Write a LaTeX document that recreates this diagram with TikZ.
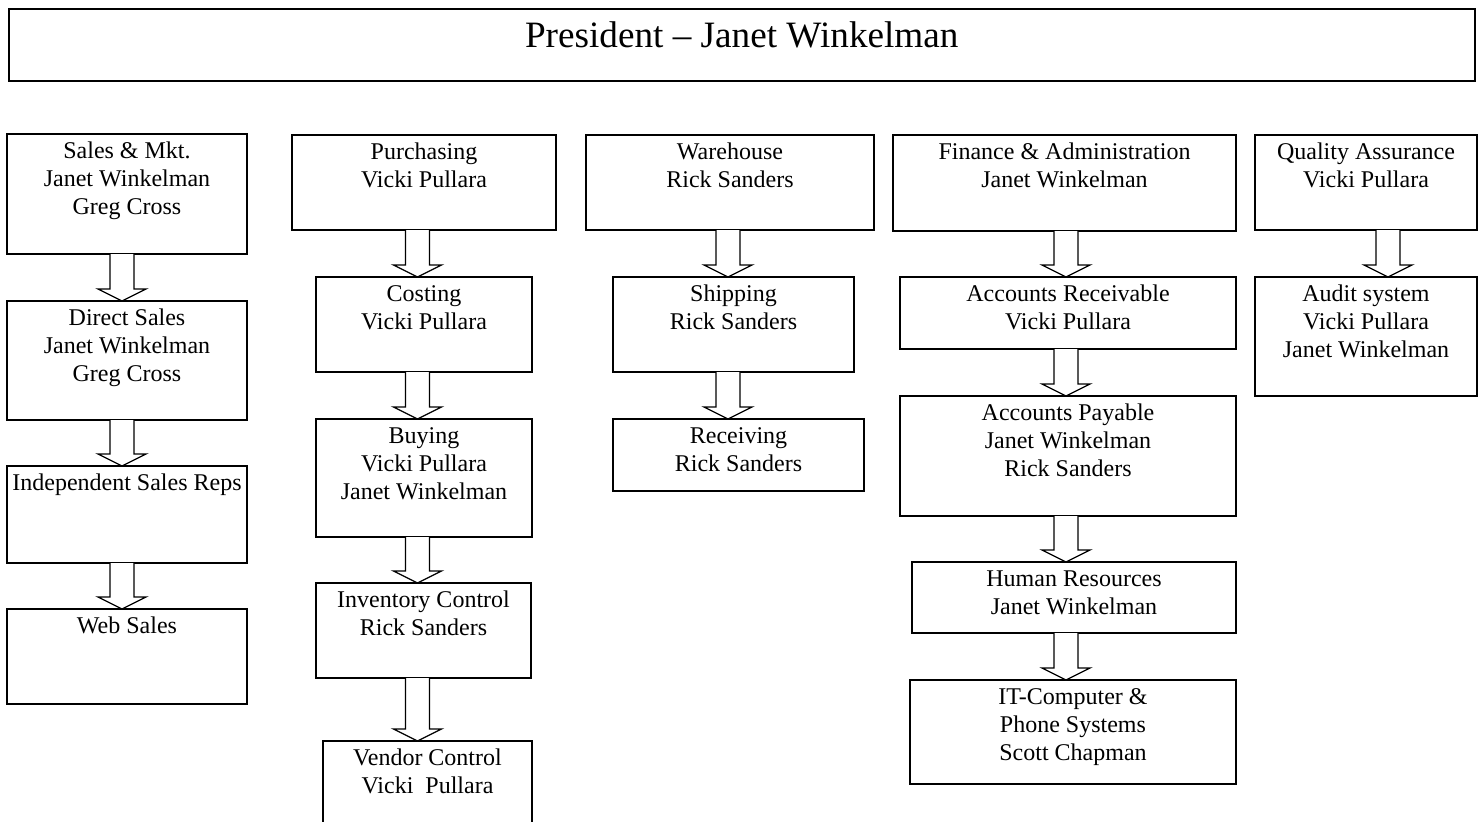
\documentclass[tikz,border=0pt]{standalone}
\usepackage{fontspec}
\setmainfont{Liberation Serif}
\usetikzlibrary{calc}
\newcommand\tlines[1]{\begin{tabular}[t]{@{}c@{}}#1\end{tabular}}
\newcommand\bx[5]{\node[box, minimum width={(#4-#2)*0.5pt}, minimum height={(#5-#3)*0.5pt}, anchor=north west] (#1) at (#2,#3) {};}
\newcommand\tx[2]{\node[txt, anchor=base] (#1-t) at ([yshift=-12pt]#1.north) {\tlines{#2}};}
\newcommand\barrow[3]{%
  \draw[barr] let \p1=(#1.south), \p2=(#2.north) in
    ({(#3-12)*0.5pt},\y1) -- ({(#3-12)*0.5pt},\y2+6pt) -- ({(#3-24)*0.5pt},\y2+6pt) --
    ({#3*0.5pt},\y2) -- ({(#3+24)*0.5pt},\y2+6pt) -- ({(#3+12)*0.5pt},\y2+6pt) --
    ({(#3+12)*0.5pt},\y1);}
\begin{document}
\begin{tikzpicture}[x=0.5pt,y=-0.5pt,
  box/.style={draw=black, line width=0.65pt, inner sep=0pt, outer sep=0pt},
  txt/.style={inner sep=0pt, font=\fontsize{12}{14}\selectfont},
  barr/.style={draw=black, fill=white, line width=0.65pt, line join=miter}]
\useasboundingbox (0,0) rectangle (1480,821);
\clip (0,0) rectangle (1480,821);
\fill[white] (0,0) rectangle (1480,821);
% title
\node[draw=black, line width=1pt, inner sep=0pt, minimum width={(1474-7.5)*0.5pt}, minimum height={(80-7.5)*0.5pt}, anchor=north west] (pres) at (7.5,7.5) {};
\node[inner sep=0pt, anchor=base, font=\fontsize{18.6}{22}\selectfont] (pres-t) at ([yshift=-19.75pt]pres.north) {President – Janet Winkelman};
% column 1
\bx{sm}{7}{134}{247}{254}
\bx{ds}{7}{301}{247}{420}
\bx{isr}{7}{466}{247}{563}
\bx{web}{7}{609}{247}{704}
\tx{sm}{Sales \& Mkt.\\Janet Winkelman\\Greg Cross}
\tx{ds}{Direct Sales\\Janet Winkelman\\Greg Cross}
\tx{isr}{Independent Sales Reps}
\tx{web}{Web Sales}
% column 2
\bx{pur}{292}{135}{556}{230}
\bx{cost}{316}{277}{532}{372}
\bx{buy}{316}{419}{532}{537}
\bx{inv}{316}{583}{531}{678}
\bx{ven}{323}{741}{532}{841}
\tx{pur}{Purchasing\\Vicki Pullara}
\tx{cost}{Costing\\Vicki Pullara}
\tx{buy}{Buying\\Vicki Pullara\\Janet Winkelman}
\tx{inv}{Inventory Control\\Rick Sanders}
\tx{ven}{Vendor Control\\Vicki~ Pullara}
% column 3
\bx{wh}{586}{135}{874}{230}
\bx{ship}{613}{277}{854}{372}
\bx{recv}{613}{419}{864}{491}
\tx{wh}{Warehouse\\Rick Sanders}
\tx{ship}{Shipping\\Rick Sanders}
\tx{recv}{Receiving\\Rick Sanders}
% column 4
\bx{fin}{893}{135}{1236}{231}
\bx{ar}{900}{277}{1236}{349}
\bx{ap}{900}{396}{1236}{516}
\bx{hr}{912}{562}{1236}{633}
\bx{it}{910}{680}{1236}{784}
\tx{fin}{Finance \& Administration\\Janet Winkelman}
\tx{ar}{Accounts Receivable\\Vicki Pullara}
\tx{ap}{Accounts Payable\\Janet Winkelman\\Rick Sanders}
\tx{hr}{Human Resources\\Janet Winkelman}
\tx{it}{IT-Computer \&\\Phone Systems\\Scott Chapman}
% column 5
\bx{qa}{1255}{135}{1477}{230}
\bx{aud}{1255}{277}{1477}{396}
\tx{qa}{Quality Assurance\\Vicki Pullara}
\tx{aud}{Audit system\\Vicki Pullara\\Janet Winkelman}
% arrows
\barrow{sm}{ds}{122}
\barrow{ds}{isr}{122}
\barrow{isr}{web}{122}
\barrow{pur}{cost}{417.5}
\barrow{cost}{buy}{417.5}
\barrow{buy}{inv}{417.5}
\barrow{inv}{ven}{417.5}
\barrow{wh}{ship}{728}
\barrow{ship}{recv}{728}
\barrow{fin}{ar}{1066}
\barrow{ar}{ap}{1066}
\barrow{ap}{hr}{1066}
\barrow{hr}{it}{1066}
\barrow{qa}{aud}{1388}
\end{tikzpicture}
\end{document}
